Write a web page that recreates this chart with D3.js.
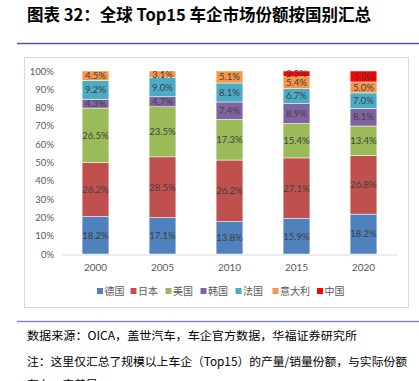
<!DOCTYPE html>
<html>
<head>
<meta charset="utf-8">
<script src="https://cdn.jsdelivr.net/npm/d3@7"></script>
<style>
  body { margin: 0; background: #fff; }
  svg { display: block; }
</style>
</head>
<body>
<svg id="chart" width="419" height="381"></svg>
<script>
var years = ['2000', '2005', '2010', '2015', '2020'];
var countries = ['德国', '日本', '美国', '韩国', '法国', '意大利', '中国'];
var germany = [18.2, 17.1, 13.8, 15.9, 18.2];
var japan = [26.2, 28.5, 26.2, 27.1, 26.8];
var usa = [26.5, 23.5, 17.3, 15.4, 13.4];
var korea = [4.3, 4.7, 7.4, 8.9, 8.1];
var france = [9.2, 9.0, 8.1, 6.7, 7.0];
var italy = [4.5, 3.1, 5.1, 5.4, 5.0];
var china = [0, 0, 0, 2.5, 5.0];
var yTicks = [0, 0.1, 0.2, 0.3, 0.4, 0.5, 0.6, 0.7, 0.8, 0.9, 1.0];

var colors = ['#4F81BD', '#C0504D', '#9BBB59', '#8064A2', '#4BACC6', '#F79646', '#FF0000'];
var cjk = '"Noto Sans CJK SC", "Noto Sans", sans-serif';
var num = 'Lato, "Noto Sans", sans-serif';

var svg = d3.select('#chart');

// title + rules
svg.append('text')
   .attr('x', 27).attr('y', 21)
   .attr('font-family', cjk).attr('font-size', 16.5).attr('font-weight', 700)
   .attr('fill', '#000')
   .text('图表 32：全球 Top15 车企市场份额按国别汇总');

svg.append('line').attr('x1', 17).attr('x2', 419).attr('y1', 43.5).attr('y2', 43.5)
   .attr('stroke', '#4f55ad').attr('stroke-width', 1.3);

svg.append('rect').attr('x', 24.5).attr('y', 57.5).attr('width', 384).attr('height', 250)
   .attr('fill', 'none').attr('stroke', '#d9d9d9').attr('stroke-width', 1);

svg.append('line').attr('x1', 17).attr('x2', 419).attr('y1', 321.5).attr('y2', 321.5)
   .attr('stroke', '#8a88c6').attr('stroke-width', 1.3);

// stack data (each bar normalised to 100%)
var series = [germany, japan, usa, korea, france, italy, china];
var rows = years.map(function(y, i) {
  var row = { year: y };
  countries.forEach(function(c, k) { row[c] = series[k][i]; });
  return row;
});
var layers = d3.stack().keys(countries).offset(d3.stackOffsetExpand)(rows);

var x = d3.scaleBand().domain(years).range([62, 397]).paddingInner(0.6).paddingOuter(0.3);
var y = d3.scaleLinear().domain([0, 1]).range([254, 71]);

var gBars = svg.append('g');
layers.forEach(function(layer, k) {
  gBars.append('g').selectAll('rect').data(layer).enter().append('rect')
       .attr('x', function(d) { return x(d.data.year); })
       .attr('width', x.bandwidth())
       .attr('y', function(d) { return y(d[1]); })
       .attr('height', function(d) { return y(d[0]) - y(d[1]); })
       .attr('fill', colors[k])
       .attr('stroke', '#fff').attr('stroke-width', 0.5);

  gBars.append('g').selectAll('text').data(layer.filter(function(d) { return d.data[countries[k]] > 0; })).enter().append('text')
       .attr('x', function(d) { return x(d.data.year) + x.bandwidth() / 2; })
       .attr('y', function(d) { return (y(d[0]) + y(d[1])) / 2; })
       .attr('dy', '0.35em')
       .attr('text-anchor', 'middle')
       .attr('font-family', num).attr('font-size', 9.5)
       .attr('fill', '#404040')
       .text(function(d) { return d.data[countries[k]].toFixed(1) + '%'; });
});

// axes
var yAxis = svg.append('g').attr('transform', 'translate(62,0)')
               .call(d3.axisLeft(y).tickValues(yTicks).tickFormat(d3.format('.0%')).tickSize(0).tickPadding(8));
yAxis.select('.domain').remove();
yAxis.selectAll('text').attr('font-family', num).attr('font-size', 9.5).attr('fill', '#595959');

var xAxis = svg.append('g').attr('transform', 'translate(0,254.5)')
               .call(d3.axisBottom(x).tickSize(0).tickPadding(9));
xAxis.select('.domain').attr('stroke', '#d9d9d9');
xAxis.selectAll('text').attr('font-family', num).attr('font-size', 10).attr('fill', '#595959');

// legend
var legendX = [97, 130.5, 165.5, 200.5, 235.5, 272.5, 317];
var legend = svg.append('g');
countries.forEach(function(c, k) {
  legend.append('rect').attr('x', legendX[k]).attr('y', 288).attr('width', 6).attr('height', 6).attr('fill', colors[k]);
  legend.append('text').attr('x', legendX[k] + 7.5).attr('y', 291).attr('dy', '0.35em')
        .attr('font-family', cjk).attr('font-size', 10).attr('fill', '#595959')
        .text(c);
});

// footnotes (third line runs off the bottom edge, as in the source)
var notes = [
  '数据来源：OICA，盖世汽车，车企官方数据，华福证券研究所',
  '注：这里仅汇总了规模以上车企（Top15）的产量/销量份额，与实际份额',
  '存在一定差异。'
];
var noteY = [339.5, 365.5, 389];
notes.forEach(function(t, i) {
  svg.append('text').attr('x', 27).attr('y', noteY[i])
     .attr('font-family', cjk).attr('font-size', 11.8).attr('fill', '#000')
     .attr('textLength', i == 2 ? null : (i == 0 ? 330 : 380))
     .attr('lengthAdjust', 'spacingAndGlyphs')
     .text(t);
});
</script>
</body>
</html>
